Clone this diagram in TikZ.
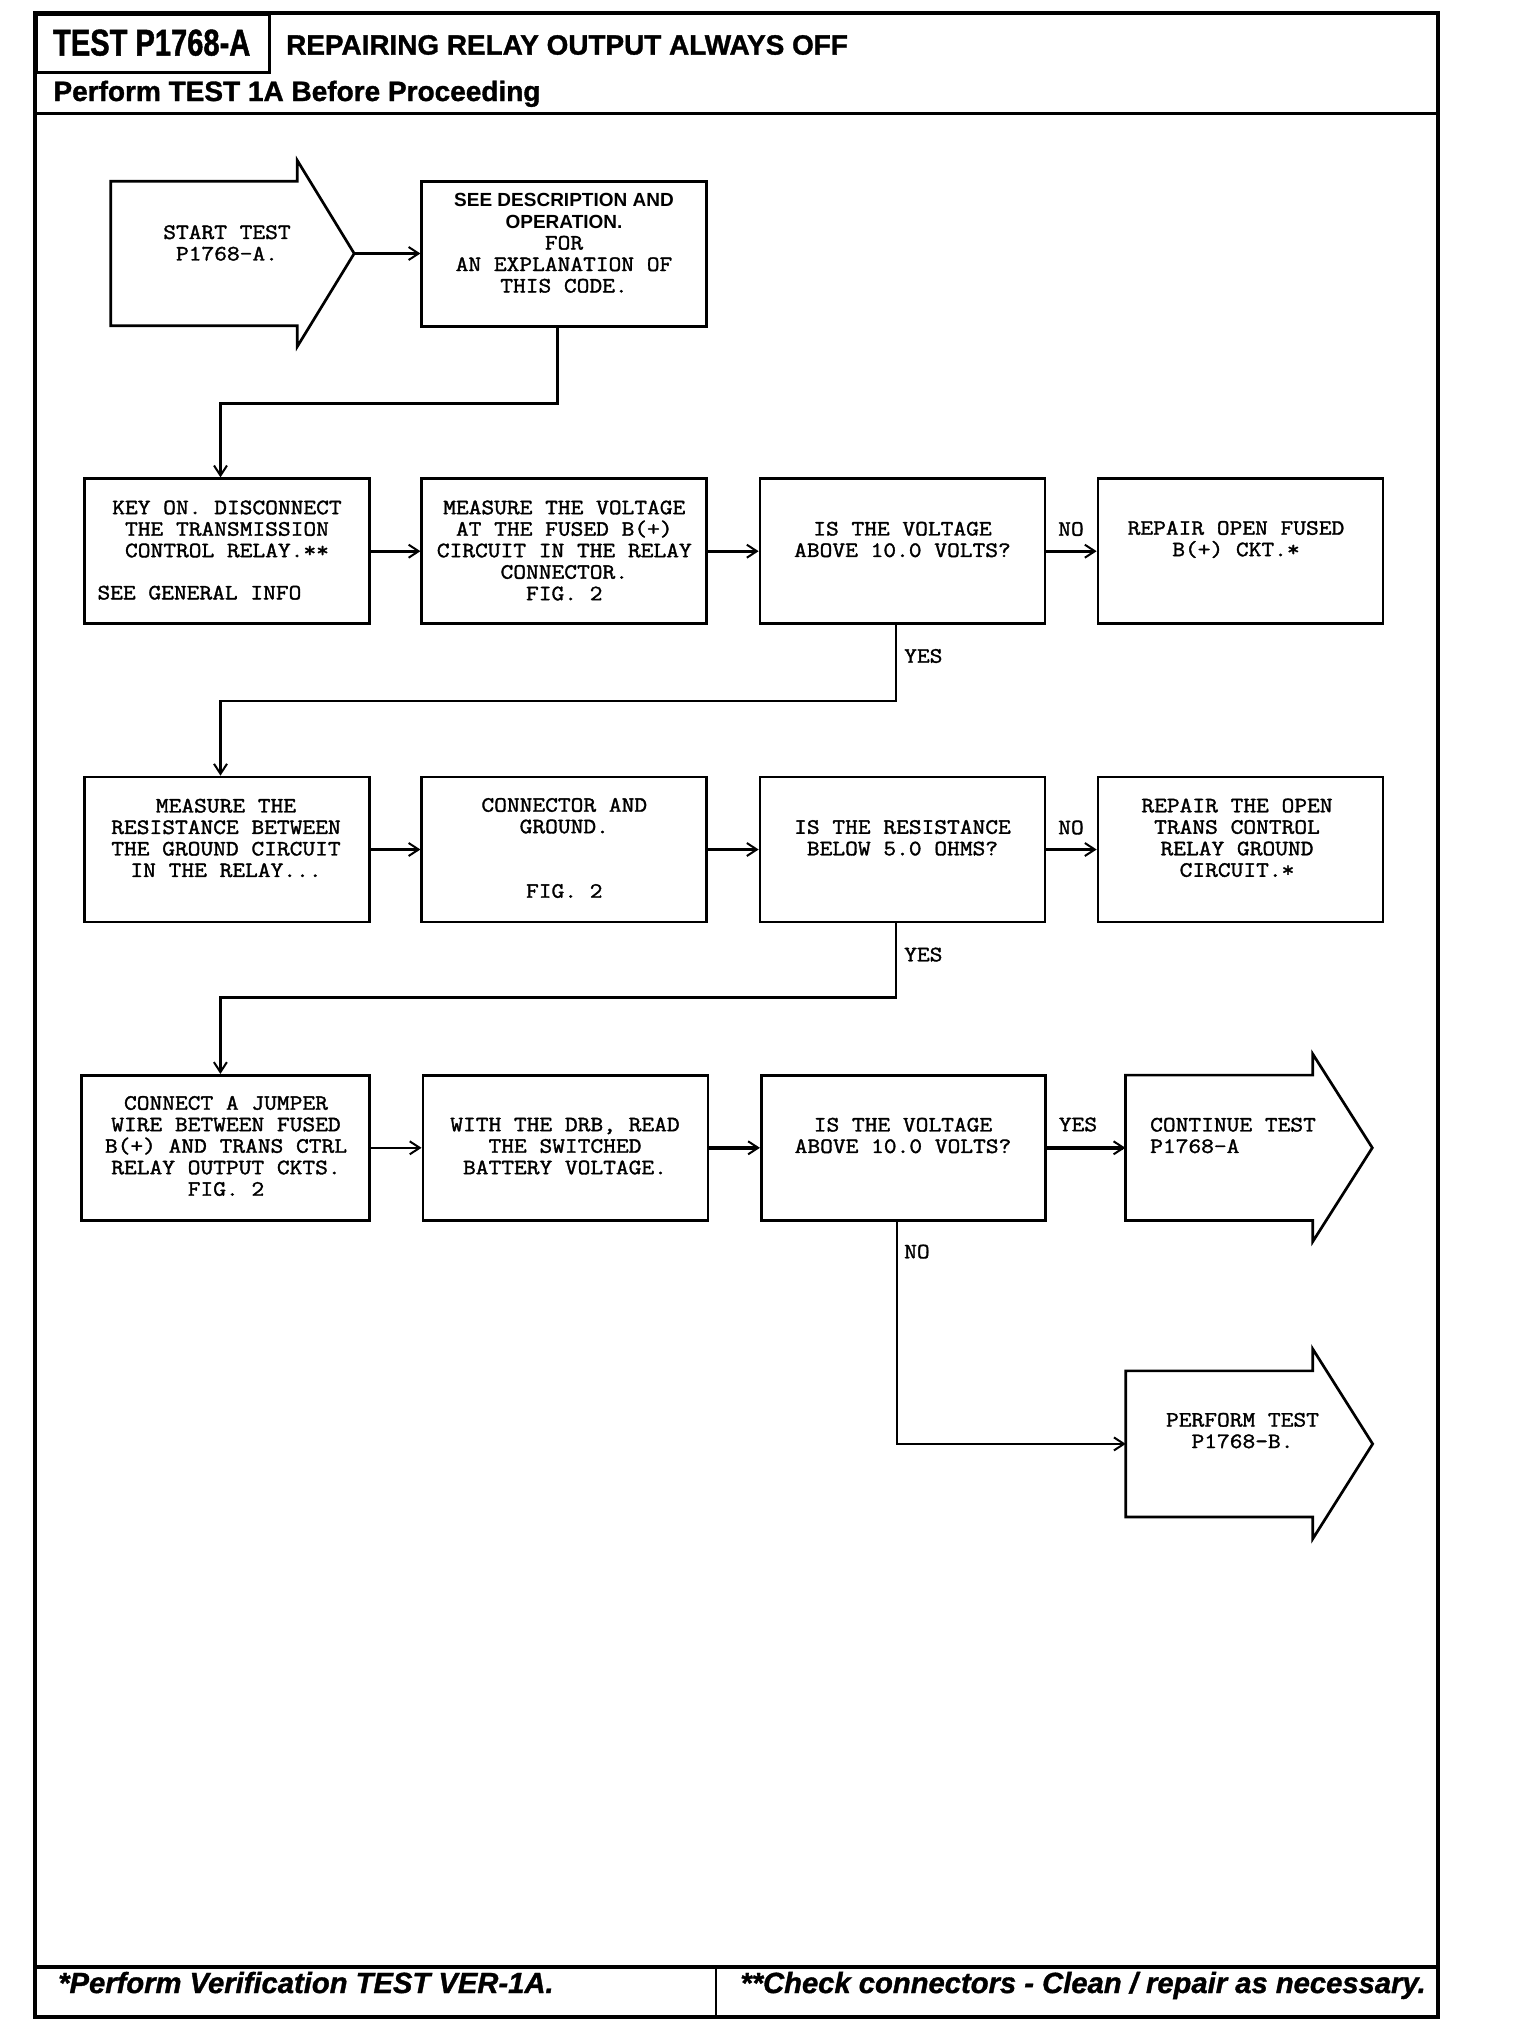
\documentclass[tikz,border=0pt]{standalone}
\usepackage{fontspec}
\setmainfont{Liberation Serif}
\setmonofont[FakeStretch=1.13, FakeBold=1.6]{Latin Modern Mono}
\newfontfamily\hsans[FakeBold=1.2]{Liberation Sans}
\newfontfamily\hcond[FakeStretch=0.78, FakeBold=1.2]{Liberation Sans}
\newfontfamily\psans{Liberation Sans}
\newcommand\sansb{\psans\bfseries\fontsize{19}{21.5}\selectfont}
\usetikzlibrary{arrows.meta,calc}
\begin{document}
\begin{tikzpicture}[x=1pt,y=-1pt,
  fbox/.style={draw, line width=2.7pt, minimum width=285pt, minimum height=145pt, inner sep=0pt},
  abody/.style={inner sep=0pt, minimum width=187pt, minimum height=145pt},
  outl/.style={line width=2.7pt, line join=miter},
  txt/.style={font={\ttfamily\fontsize{21.9}{21.5}\selectfont}, align=center, inner sep=0pt},
  lbl/.style={font={\ttfamily\fontsize{21.9}{21.5}\selectfont}, inner sep=0pt},
  conn/.style={line width=2.6pt, -{Straight Barb[length=10pt,width=13pt,line width=2pt]}},
]
\useasboundingbox (0,0) rectangle (1520,2034);
% frame and header
\draw[line width=4pt] (35,13) rectangle (1438,2017);
\node[draw, line width=2.7pt, minimum width=233pt, minimum height=58pt, anchor=north west, inner sep=0pt] (hdrbox) at (35,13) {};
\node[font={\hcond\bfseries\fontsize{37.3}{40}\selectfont}, inner sep=0pt] (hdrid) at (151.7,42.7) {TEST P1768-A};
\node[font={\hsans\bfseries\fontsize{27.9}{30}\selectfont}, anchor=west, inner sep=0pt] (title) at (286,45) {REPAIRING RELAY OUTPUT ALWAYS OFF};
\node[font={\hsans\bfseries\fontsize{28}{30}\selectfont}, anchor=base west, inner sep=0pt] (pre) at (53.3,101) {Perform TEST 1A Before Proceeding};
\draw[line width=3pt] (35,113) -- (1438,113);
% footer
\draw[line width=3.5pt] (35,1967) -- (1438,1967);
\draw[line width=2pt] (716,1967) -- (716,2017);
\node[font={\hsans\bfseries\itshape\fontsize{29.2}{30}\selectfont}, anchor=base west, inner sep=0pt] (footl) at (58,1993) {*Perform Verification TEST VER-1A.};
\node[font={\hsans\bfseries\itshape\fontsize{29.2}{30}\selectfont}, anchor=base east, inner sep=0pt] (footr) at (1426,1993) {**Check connectors - Clean / repair as necessary.};

% row 1
\node[abody, minimum width=186pt, minimum height=144pt] (start) at (204,253.5) {};
\coordinate (starttip) at ($(start.east)+(57,0)$);
\draw[outl] (start.north west) -- (start.north east) -- ($(start.north east)+(0,-21)$) -- (starttip)
  -- ($(start.south east)+(0,21)$) -- (start.south east) -- (start.south west) -- cycle;
\node[txt] (startt) at (227,243) {START TEST\\P1768-A.};
\node[fbox] (see) at (564.3,254) {};
\node[txt] (seet) at (564,243) {{\sansb SEE DESCRIPTION AND}\\{\sansb OPERATION.}\\FOR\\AN EXPLANATION OF\\THIS CODE.};

% row 2
\node[fbox] (key) at (227,551.2) {};
\node[fbox] (m1) at (564.3,551.2) {};
\node[fbox] (q1) at (902.5,551.2) {};
\node[fbox] (r1) at (1240.5,551.2) {};
\node[txt] (keyt) at (227,529) {KEY ON. DISCONNECT\\THE TRANSMISSION\\CONTROL RELAY.**};
\node[lbl, anchor=west] (keyg) at (97.3,592.7) {SEE GENERAL INFO};
\node[txt] (m1t) at (564.3,550.5) {MEASURE THE VOLTAGE\\AT THE FUSED B(+)\\CIRCUIT IN THE RELAY\\CONNECTOR.\\FIG. 2};
\node[txt] (q1t) at (902.5,539.5) {IS THE VOLTAGE\\ABOVE 10.0 VOLTS?};
\node[txt] (r1t) at (1236,539.5) {REPAIR OPEN FUSED\\B(+) CKT.*};
\node[lbl] (no1) at (1071,529) {NO};
\node[lbl, anchor=west] (yes1) at (904,656) {YES};

% row 3
\node[fbox] (mr) at (227,849.5) {};
\node[fbox] (cg) at (564.3,849.5) {};
\node[fbox] (q2) at (902.5,849.5) {};
\node[fbox] (r2) at (1240.5,849.5) {};
\node[txt] (mrt) at (226,838) {MEASURE THE\\RESISTANCE BETWEEN\\THE GROUND CIRCUIT\\IN THE RELAY...};
\node[txt] (cgt) at (564.3,848) {CONNECTOR AND\\GROUND.\\[43pt]FIG. 2};
\node[txt] (q2t) at (902.5,837.8) {IS THE RESISTANCE\\BELOW 5.0 OHMS?};
\node[txt] (r2t) at (1237,837.8) {REPAIR THE OPEN\\TRANS CONTROL\\RELAY GROUND\\CIRCUIT.*};
\node[lbl] (no2) at (1071,827.5) {NO};
\node[lbl, anchor=west] (yes2) at (904,954.6) {YES};

% row 4
\node[fbox, minimum width=288pt] (cj) at (225.6,1147.8) {};
\node[fbox] (wd) at (565.4,1147.8) {};
\node[fbox, minimum width=284pt] (q3) at (903.3,1147.8) {};
\node[abody] (cont) at (1219.1,1147.8) {};
\coordinate (conttip) at ($(cont.east)+(59.5,0)$);
\draw[outl] (cont.north west) -- (cont.north east) -- ($(cont.north east)+(0,-21)$) -- (conttip)
  -- ($(cont.south east)+(0,21)$) -- (cont.south east) -- (cont.south west) -- cycle;
\node[txt] (cjt) at (226,1146) {CONNECT A JUMPER\\WIRE BETWEEN FUSED\\B(+) AND TRANS CTRL\\RELAY OUTPUT CKTS.\\FIG. 2};
\node[txt] (wdt) at (565,1146) {WITH THE DRB, READ\\THE SWITCHED\\BATTERY VOLTAGE.};
\node[txt] (q3t) at (903,1135.5) {IS THE VOLTAGE\\ABOVE 10.0 VOLTS?};
\node[txt, align=left, anchor=west] (contt) at (1150,1135.5) {CONTINUE TEST\\P1768-A};
\node[lbl] (yes3) at (1078,1124.5) {YES};

% perform test B
\node[abody, minimum width=186.5pt, minimum height=145.7pt] (perf) at (1219.2,1443.9) {};
\coordinate (perftip) at ($(perf.east)+(60,0)$);
\draw[outl] (perf.north west) -- (perf.north east) -- ($(perf.north east)+(0,-22)$) -- (perftip)
  -- ($(perf.south east)+(0,22)$) -- (perf.south east) -- (perf.south west) -- cycle;
\node[txt] (perft) at (1242.5,1430.6) {PERFORM TEST\\P1768-B.};
\node[lbl, anchor=west] (no3) at (904,1251.6) {NO};

% connectors
\draw[conn] (starttip) -- (starttip -| see.west);
\draw[conn] ([xshift=-6.6pt]see.south) -- ++(0,75.5) -| ([xshift=-6.5pt]key.north);
\draw[conn] (key.east) -- (m1.west);
\draw[conn] (m1.east) -- (q1.west);
\draw[conn] (q1.east) -- (r1.west);
\draw[conn] ([xshift=-6.5pt]q1.south) -- ++(0,76) -| ([xshift=-6.5pt]mr.north);
\draw[conn] (mr.east) -- (cg.west);
\draw[conn] (cg.east) -- (q2.west);
\draw[conn] (q2.east) -- (r2.west);
\draw[conn] ([xshift=-6.5pt]q2.south) -- ++(0,74) -| ([xshift=-5.2pt]cj.north);
\draw[conn] (cj.east) -- (wd.west);
\draw[conn, line width=3.4pt] (wd.east) -- (q3.west);
\draw[conn, line width=3.4pt] (q3.east) -- (cont.west);
\draw[conn] ([xshift=-6.5pt]q3.south) |- (perf.west);
\end{tikzpicture}
\end{document}
